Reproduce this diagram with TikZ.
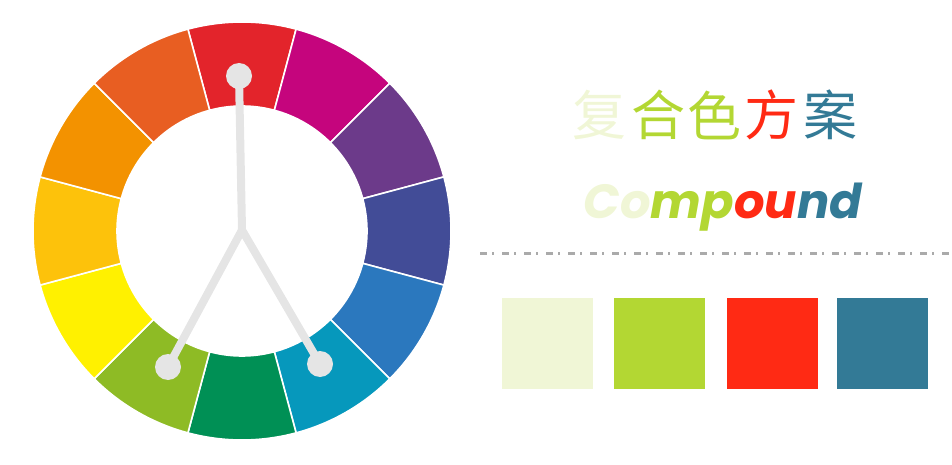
\documentclass[tikz,border=0pt]{standalone}
\usepackage{fontspec}
\usepackage{xcolor}
\usepackage{tikz}
\usetikzlibrary{calc,positioning}
\newfontfamily\cjkfont{Noto Sans CJK SC}
\newfontfamily\compfont{Poppins}
\definecolor{wheelred}{HTML}{E3242B}
\definecolor{wheelmagenta}{HTML}{C5057D}
\definecolor{wheelpurple}{HTML}{6C3A8A}
\definecolor{wheelindigo}{HTML}{424C97}
\definecolor{wheelblue}{HTML}{2B78BE}
\definecolor{wheelcyan}{HTML}{0698BC}
\definecolor{wheelgreen}{HTML}{009055}
\definecolor{wheellime}{HTML}{8EBB25}
\definecolor{wheelyellow}{HTML}{FFF100}
\definecolor{wheelamber}{HTML}{FDC20B}
\definecolor{wheelorange}{HTML}{F39200}
\definecolor{wheelvermil}{HTML}{E85E22}
\definecolor{pingrey}{HTML}{E5E5E5}
\definecolor{rulegrey}{HTML}{AAAAAA}
\definecolor{palegreen}{HTML}{F0F6D6}
\definecolor{limegreen}{HTML}{B3D733}
\definecolor{brightred}{HTML}{FF2A14}
\definecolor{steelteal}{HTML}{337A96}
\tikzset{
  sector/.style={draw=white,line width=1.6pt},
  pinline/.style={draw=pingrey,line width=8pt,line cap=round,line join=round},
  pindot/.style={circle,fill=pingrey,minimum size=26pt,inner sep=0pt},
  hanzi/.style={font=\cjkfont\fontsize{54}{54}\selectfont,inner sep=0pt},
  swatch/.style={minimum size=91pt,inner sep=0pt}
}
\begin{document}
\begin{tikzpicture}[x=1pt,y=1pt]
  \useasboundingbox (0,0) rectangle (952,464);
  % colour wheel
  \begin{scope}[shift={(242,233)}]
    \foreach \a/\c in {90/wheelred,60/wheelmagenta,30/wheelpurple,0/wheelindigo,
      -30/wheelblue,-60/wheelcyan,-90/wheelgreen,-120/wheellime,
      -150/wheelyellow,180/wheelamber,150/wheelorange,120/wheelvermil}
      \filldraw[sector,fill=\c] (\a-15:125pt) -- (\a-15:209pt)
        arc[start angle=\a-15,end angle=\a+15,radius=209pt]
        -- (\a+15:125pt)
        arc[start angle=\a+15,end angle=\a-15,radius=125pt] -- cycle;
  \end{scope}
  % pointer
  \coordinate (junc) at (242,234);
  \node[pindot] (pinred) at (239,388) {};
  \node[pindot] (pinlime) at (168,97) {};
  \node[pindot] (pincyan) at (320,100) {};
  \draw[pinline] (pinred.center) -- (junc) -- (pinlime.center);
  \draw[pinline] (junc) -- (pincyan.center);
  % title
  \node[hanzi,text=palegreen] (h1) at (599,349) {复};
  \node[hanzi,text=limegreen] (h2) at (658,349) {合};
  \node[hanzi,text=limegreen] (h3) at (714,349) {色};
  \node[hanzi,text=brightred] (h4) at (771,349) {方};
  \node[hanzi,text=steelteal] (h5) at (830,349) {案};
  \node[anchor=base,inner sep=0pt,font=\compfont\bfseries\itshape\fontsize{48}{48}\selectfont]
    (comp) at (723,246)
    {\textcolor{palegreen}{Co}\textcolor{limegreen}{mp}\textcolor{brightred}{ou}\textcolor{steelteal}{nd}};
  % rule
  \coordinate (ruleL) at (480,211);
  \coordinate (ruleR) at (952,211);
  \draw[rulegrey,line width=3pt,dash pattern=on 7pt off 5pt on 2pt off 8pt] (ruleL) -- (ruleR);
  % swatches
  \node[swatch,fill=palegreen] (sw1) at (547.5,120.5) {};
  \node[swatch,fill=limegreen,right=21pt of sw1] (sw2) {};
  \node[swatch,fill=brightred,right=21pt of sw2] (sw3) {};
  \node[swatch,fill=steelteal,right=19pt of sw3] (sw4) {};
\end{tikzpicture}
\end{document}
